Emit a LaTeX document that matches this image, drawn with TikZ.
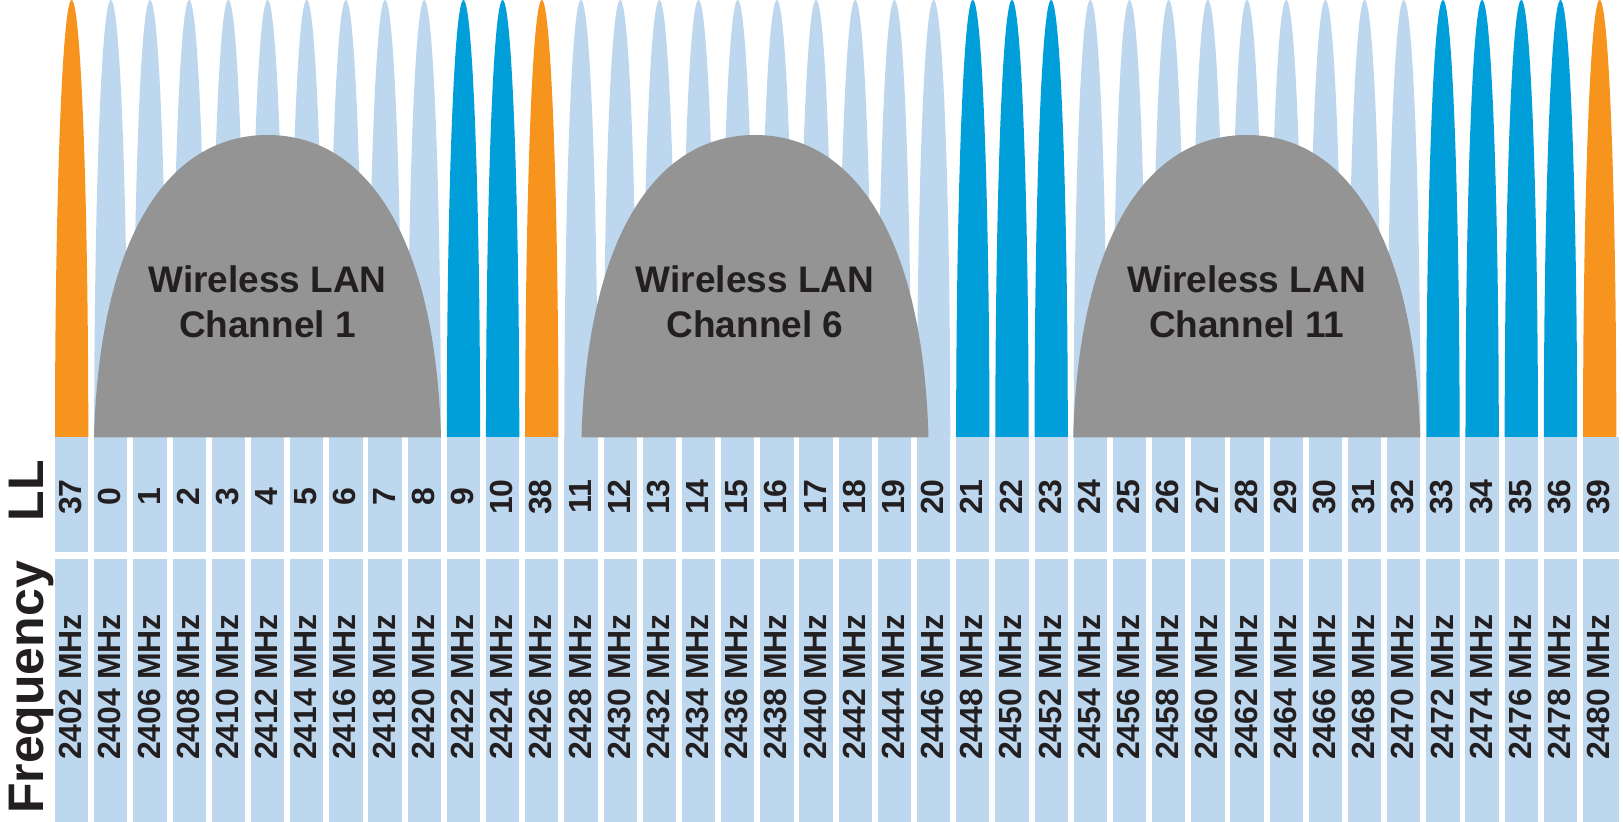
\documentclass[tikz,border=0pt]{standalone}
\usepackage{fontspec}
\setmainfont{Liberation Sans}
\definecolor{orng}{HTML}{F7941D}
\definecolor{blu}{HTML}{009FDA}
\definecolor{lblu}{HTML}{BDD7EE}
\definecolor{gry}{HTML}{949494}
\definecolor{txt}{HTML}{231F20}
\begin{document}
\begin{tikzpicture}[x=1pt,y=1pt,
  numlbl/.style={font=\bfseries\fontsize{32}{38}\selectfont, text=txt, inner sep=0pt, rotate=90, anchor=center},
  biglbl/.style={font=\bfseries\fontsize{50}{60}\selectfont, text=txt, inner sep=0pt, rotate=90, anchor=base},
  wlan/.style={font=\bfseries\fontsize{37}{44}\selectfont, text=txt, inner sep=0pt, anchor=base},
  cellbox/.style={fill=lblu}]
\useasboundingbox (0,0) rectangle (1623,822);
% spikes, boxes, labels
\foreach \ll/\c [count=\i from 0] in {37/orng,0/lblu,1/lblu,2/lblu,3/lblu,4/lblu,5/lblu,6/lblu,7/lblu,8/lblu,9/blu,10/blu,38/orng,11/lblu,12/lblu,13/lblu,14/lblu,15/lblu,16/lblu,17/lblu,18/lblu,19/lblu,20/lblu,21/blu,22/blu,23/blu,24/lblu,25/lblu,26/lblu,27/lblu,28/lblu,29/lblu,30/lblu,31/lblu,32/lblu,33/blu,34/blu,35/blu,36/blu,39/orng} {
  \pgfmathsetmacro\xl{55+39.18*\i}
  \pgfmathsetmacro\xc{\xl+16.65}
  \pgfmathsetmacro\bw{\i==39 ? 36 : 33.3}
  \pgfmathtruncatemacro\fr{2402+2*\i}
  \fill[\c] (\xl,384.5) arc[start angle=180,end angle=0,x radius=16.65,y radius=437.5] -- cycle;
  \fill[cellbox] (\xl,270) rectangle ++(\bw,114.5);
  \fill[cellbox] (\xl,0) rectangle ++(\bw,263);
  \node[numlbl] (ll\i) at (\xc-1,325) {\ll};
  \node[numlbl] (fq\i) at (\xc-1,135) {\fr\ MHz};
}
% Wireless LAN domes
\foreach \cx/\ch in {267.5/1,755/6,1246.7/11} {
  \fill[gry] (\cx-173.5,384.5) .. controls (\cx-168,584) and (\cx-100,687) .. (\cx,687)
     .. controls (\cx+100,687) and (\cx+168,584) .. (\cx+173.5,384.5) -- cycle;
  \node[wlan] (wa\ch) at (\cx,529.3) {Wireless LAN};
  \node[wlan] (wb\ch) at (\cx,484.7) {Channel \ch};
}
% row titles
\node[biglbl] (lltitle) at (43.3,331) {LL};
\node[biglbl] (fqtitle) at (43.3,134.5) {Frequency};
\end{tikzpicture}
\end{document}
